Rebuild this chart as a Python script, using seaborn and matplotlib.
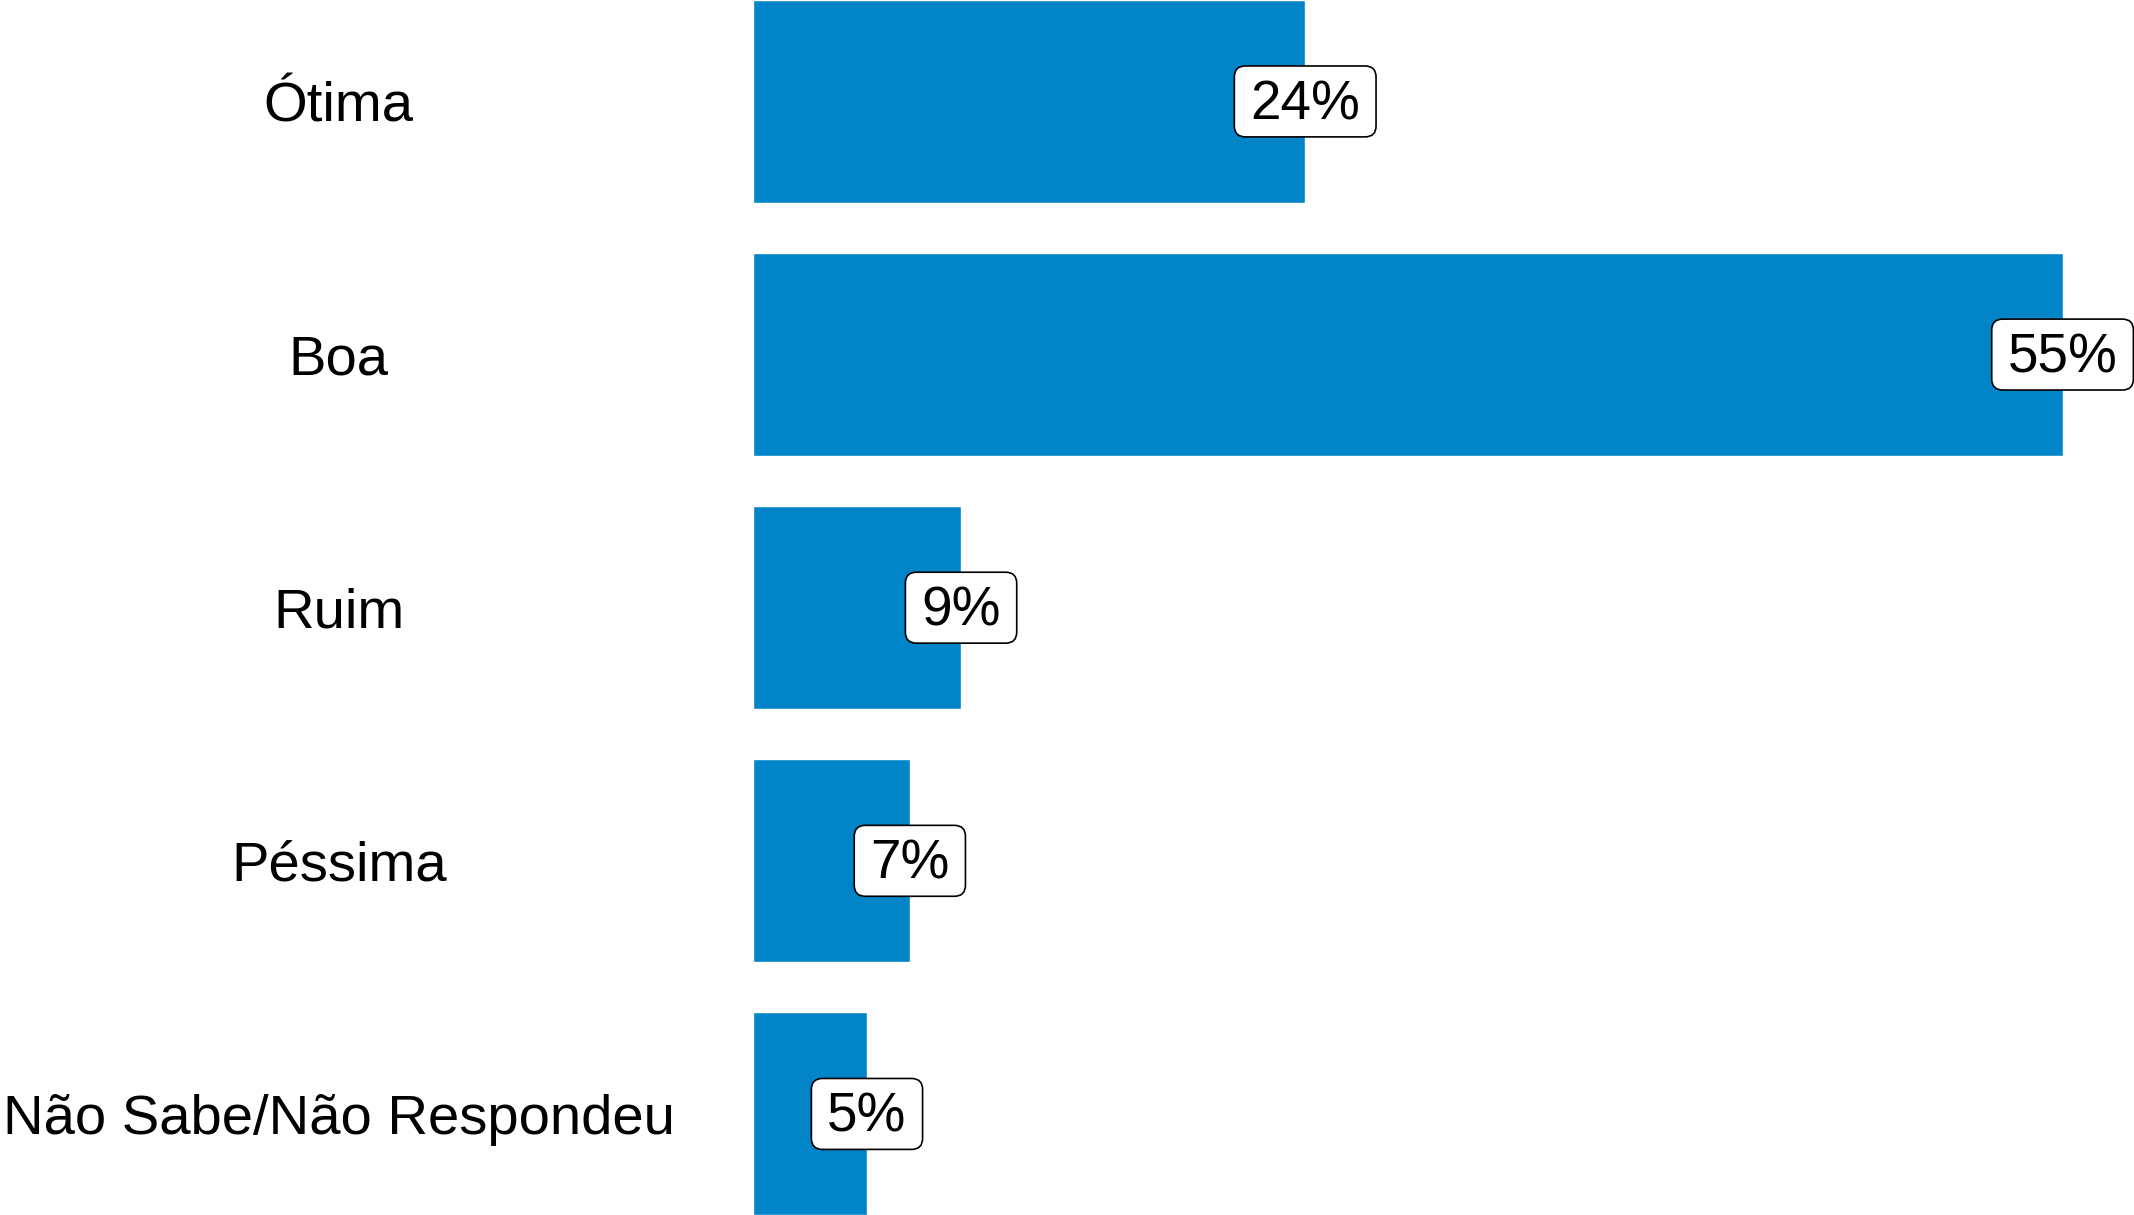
import pandas as pd
import matplotlib.pyplot as plt
from matplotlib.patches import BoxStyle
import seaborn as sns

categories = ["Ótima", "Boa", "Ruim", "Péssima", "Não Sabe/Não Respondeu"]
values = [23.2, 55.0, 8.75, 6.6, 4.8]
labels = ["24%", "55%", "9%", "7%", "5%"]

BAR_COLOR = "#0284c8"

sns.set_theme(style="white")
plt.rcParams["font.family"] = ["Liberation Sans", "DejaVu Sans"]


def label_box(x0, y0, width, height, mutation_size):
    # rounded box, wider on the sides than top/bottom
    padx = 0.29 * mutation_size
    pad_bottom = 0.10 * mutation_size
    pad_top = 0.245 * mutation_size
    rnd = BoxStyle.Round(pad=0, rounding_size=0.2)
    return rnd(x0 - padx, y0 - pad_bottom, width + 2 * padx,
               height + pad_bottom + pad_top, mutation_size)


df = pd.DataFrame({"categoria": categories, "valor": values})

fig = plt.figure(figsize=(21.34, 12.15), dpi=100)
ax = fig.add_axes([0.3527, 0.0, 1 - 0.3527, 1.0])

sns.barplot(data=df, x="valor", y="categoria", orient="h", color=BAR_COLOR,
            saturation=1, width=0.8, ax=ax)

for i, (v, lab) in enumerate(zip(values, labels)):
    ax.annotate(lab, xy=(v, i), xytext=(0, -3), textcoords="offset points",
                ha="center", va="center", fontsize=39.5, color="black",
                bbox=dict(boxstyle=label_box, facecolor="white",
                          edgecolor="black", linewidth=1.2))

ax.set_xlim(0, 58)
ax.set_ylim(4.4, -0.4)
ax.set_xlabel("")
ax.set_ylabel("")
ax.set_xticks([])
sns.despine(ax=ax, left=True, bottom=True)
ax.tick_params(axis="y", length=0, pad=298, labelsize=40.5, labelcolor="black")
for t in ax.get_yticklabels():
    t.set_horizontalalignment("center")

fig.savefig("out.png", dpi=100, facecolor="white")
